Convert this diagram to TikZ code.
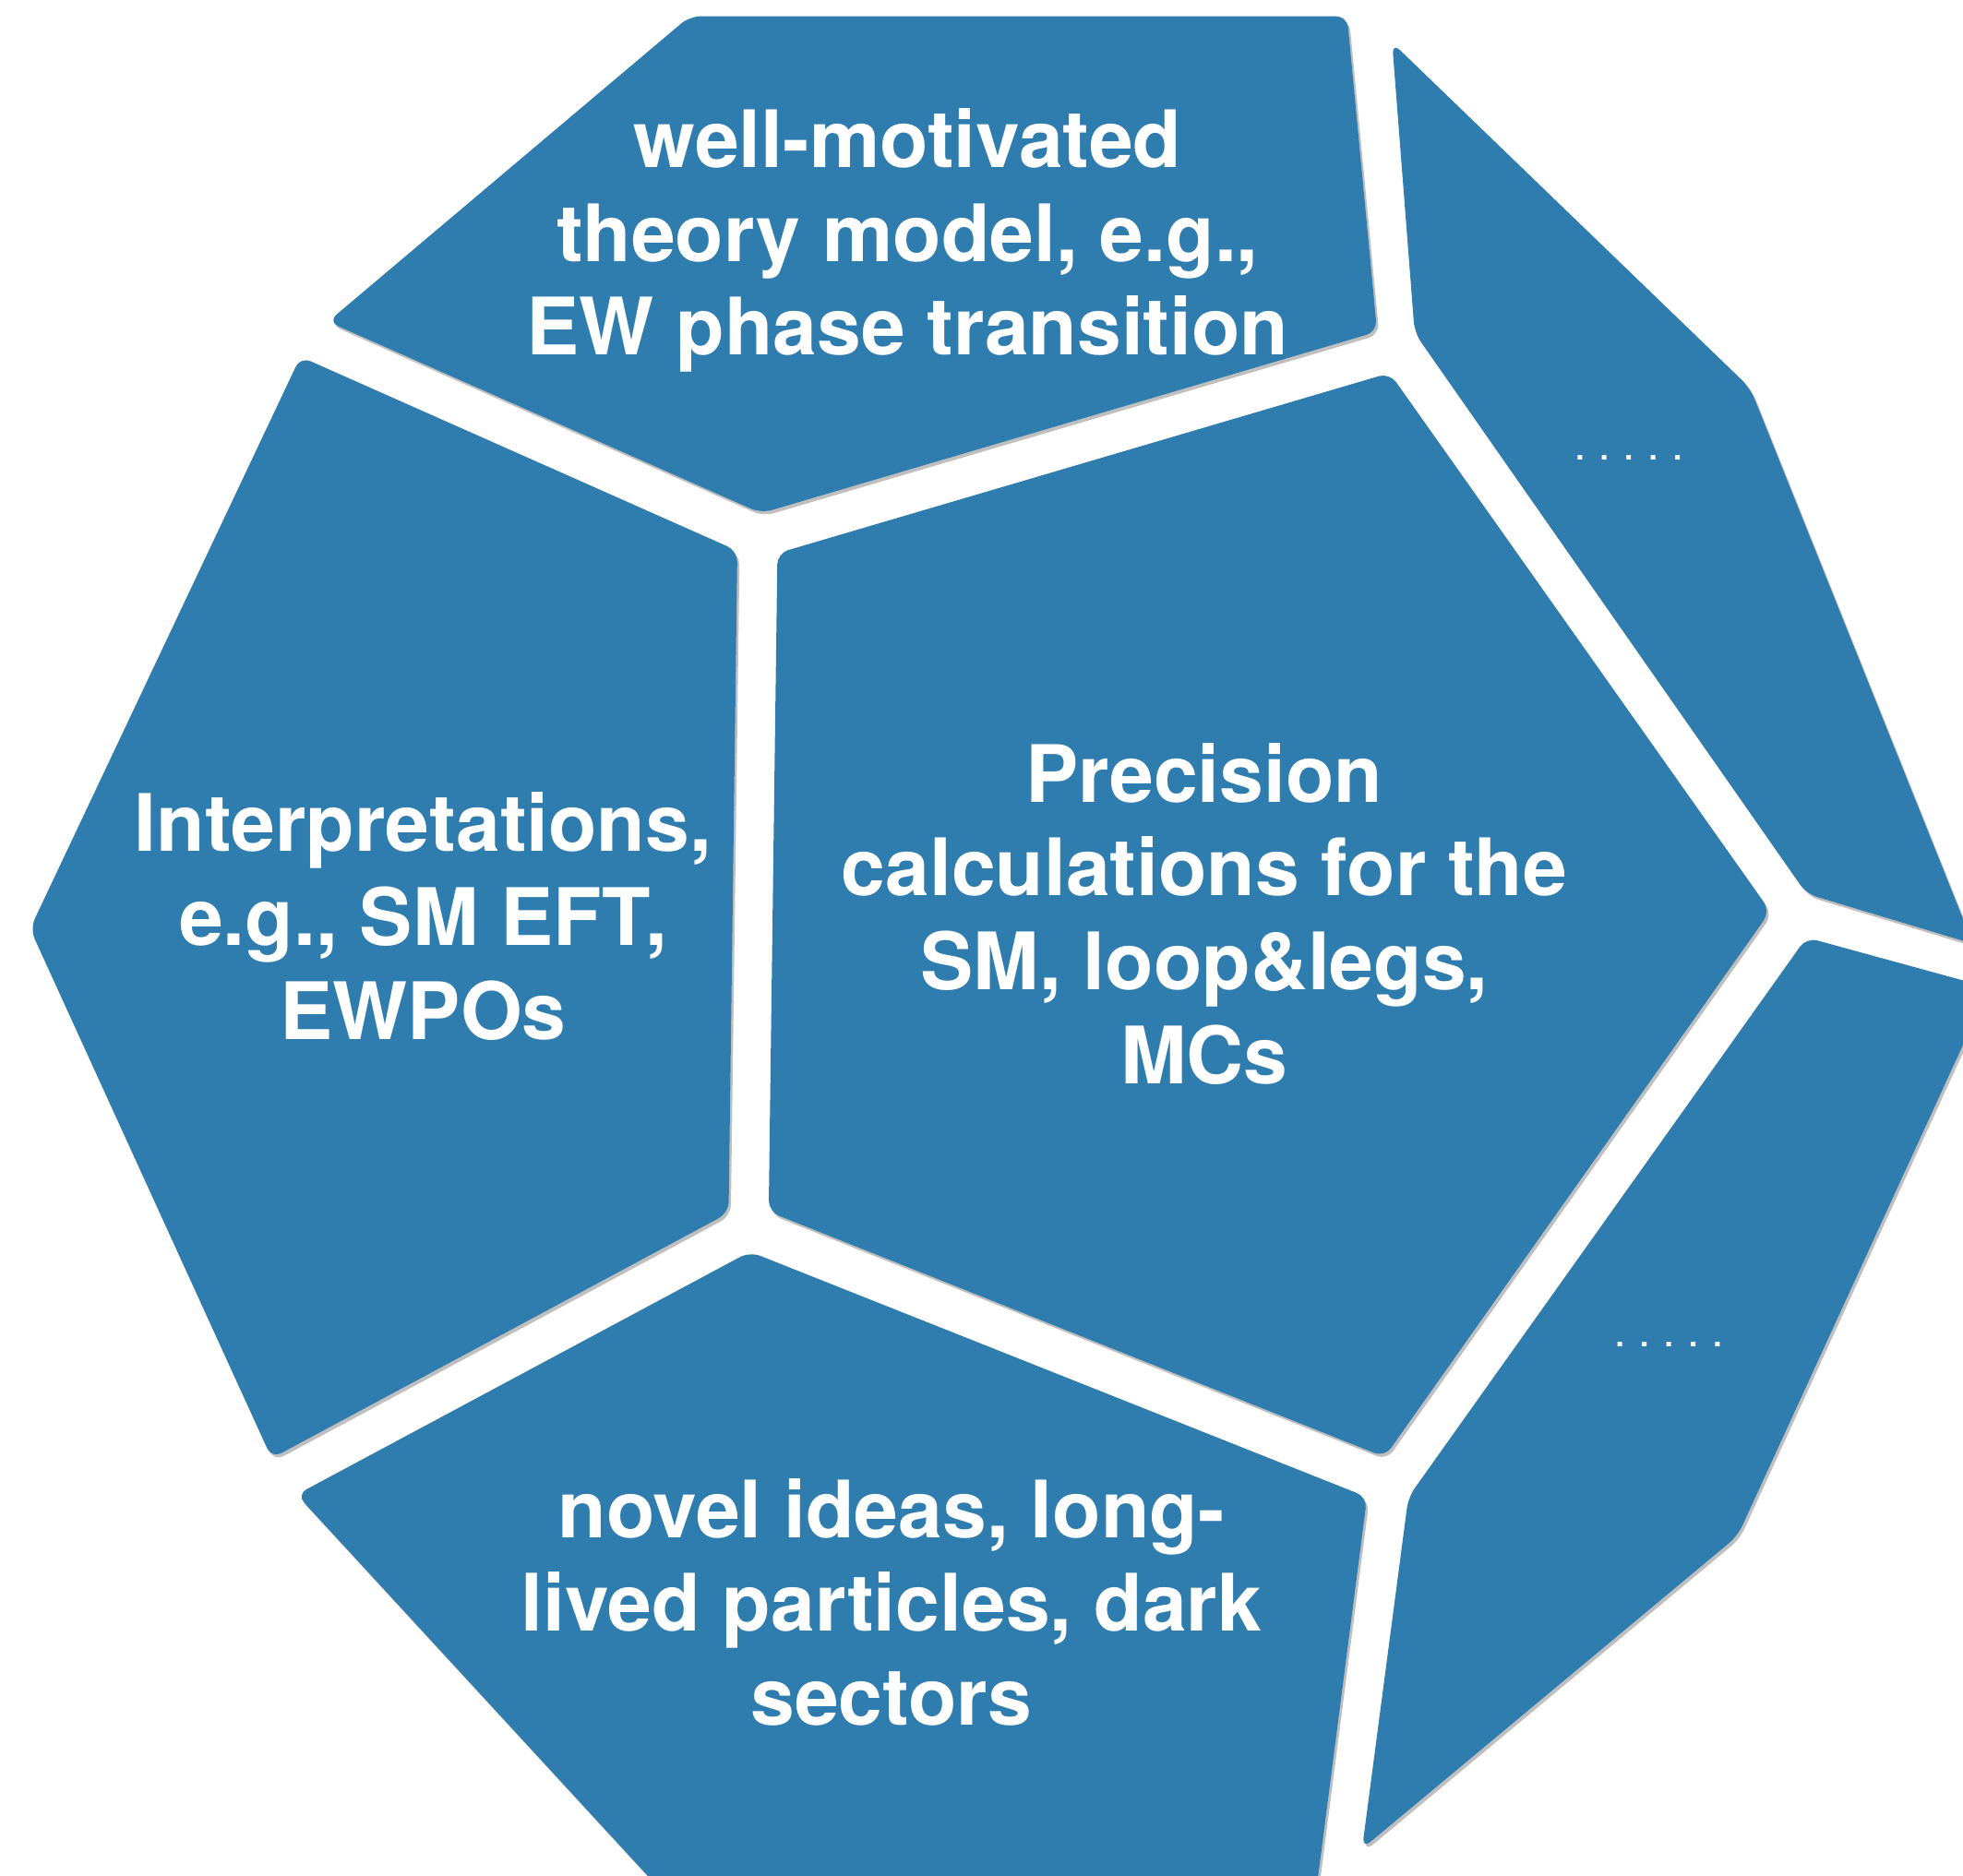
\documentclass[tikz,border=0pt]{standalone}
\usepackage{fontspec}
\setmainfont{TeX Gyre Heros}
\usetikzlibrary{shadows}
\definecolor{paper}{RGB}{47,125,174}
\tikzset{
  tile/.style={fill=paper, rounded corners=2.5pt,
    drop shadow={shadow xshift=0.5pt, shadow yshift=-0.7pt, opacity=0.25, fill=black}},
  topic/.style={text=white, align=center, inner sep=0pt,
    font=\bfseries\fontsize{18}{21.3}\selectfont},
  more/.style={text=white, inner sep=0pt, font=\bfseries\fontsize{7}{8}\selectfont}
}
\newcommand{\fivedots}{.\hspace{3.6pt}.\hspace{3.6pt}.\hspace{3.6pt}.\hspace{3.6pt}.}

\begin{document}
\begin{tikzpicture}[x=0.01cm, y=-0.01cm]
  \useasboundingbox (0,0) rectangle (1568,1498);
  \clip (0,0) rectangle (1568,1498);
  % the six tiles of the ball, the outer ones run off the page
  \path[tile] (551,13) -- (1076,13) -- (1100,265) -- (608,410) -- (262,257) -- cycle;
  \path[tile] (1112,34) -- (1398,310) -- (1576,754) -- (1443,714) -- (1130,266) -- cycle;
  \path[tile] (621,442) -- (1110,298) -- (1414,728) -- (1106,1164) -- (614,968) -- cycle;
  \path[tile] (240,285) -- (589,440) -- (582,969) -- (217,1165) -- (24,742) -- cycle;
  \path[tile] (599,1000) -- (1092,1196) -- (1045,1560) -- (574,1560) -- (237,1194) -- cycle;
  \path[tile] (1443,749) -- (1589,789) -- (1388,1227) -- (1088,1477) -- (1125,1196) -- cycle;
  % labels
  \node[topic] (theory) at (725,192) {well-motivated\\theory model, e.g.,\\EW phase transition};
  \node[topic] (interp) at (338,732) {Interpretations,\\e.g., SM EFT,\\EWPOs};
  \node[topic] (precision) at (962,730) {Precision\\calculations for the\\SM, loop\&legs,\\MCs};
  \node[topic] (novel) at (712,1280) {novel ideas, long-\\lived particles, dark\\sectors};
  \node[more] (moreup) at (1301,366) {\fivedots};
  \node[more] (moredown) at (1333,1074) {\fivedots};
\end{tikzpicture}
\end{document}
